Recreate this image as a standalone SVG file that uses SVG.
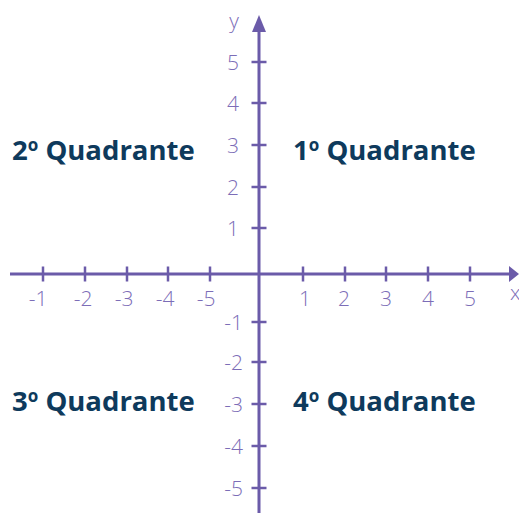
<svg xmlns="http://www.w3.org/2000/svg" width="519" height="513" viewBox="0 0 519 513">
<style>
.axis{stroke:#6b5ba9;stroke-width:3;fill:none}
.tick{stroke:#6b5ba9;stroke-width:2.5}
.lbl{font-family:"Open Sans","Liberation Sans",sans-serif;font-size:21px;font-weight:300;fill:#7c6db7}
.q{font-family:"Open Sans","Liberation Sans",sans-serif;font-weight:bold;font-size:27.5px;fill:#0e3a5c}
.sup{font-size:17px}
</style>
<rect width="519" height="513" fill="#ffffff"/>
<g id="axes">
<line class="axis" x1="10" y1="274" x2="512" y2="274"/>
<polygon points="519,274 509,266 509,282" fill="#6b5ba9"/>
<line class="axis" x1="259" y1="513" x2="259" y2="30"/>
<polygon points="259,15 252,32 266,32" fill="#6b5ba9"/>
<g class="tick">
<line x1="43" y1="266.5" x2="43" y2="281.5"/>
<line x1="85" y1="266.5" x2="85" y2="281.5"/>
<line x1="127" y1="266.5" x2="127" y2="281.5"/>
<line x1="168" y1="266.5" x2="168" y2="281.5"/>
<line x1="210" y1="266.5" x2="210" y2="281.5"/>
<line x1="303" y1="266.5" x2="303" y2="281.5"/>
<line x1="345" y1="266.5" x2="345" y2="281.5"/>
<line x1="386" y1="266.5" x2="386" y2="281.5"/>
<line x1="428" y1="266.5" x2="428" y2="281.5"/>
<line x1="470" y1="266.5" x2="470" y2="281.5"/>
<line x1="251.5" y1="62" x2="266.5" y2="62"/>
<line x1="251.5" y1="103" x2="266.5" y2="103"/>
<line x1="251.5" y1="145" x2="266.5" y2="145"/>
<line x1="251.5" y1="187" x2="266.5" y2="187"/>
<line x1="251.5" y1="228" x2="266.5" y2="228"/>
<line x1="251.5" y1="322" x2="266.5" y2="322"/>
<line x1="251.5" y1="362" x2="266.5" y2="362"/>
<line x1="251.5" y1="404" x2="266.5" y2="404"/>
<line x1="251.5" y1="446" x2="266.5" y2="446"/>
<line x1="251.5" y1="488" x2="266.5" y2="488"/>
</g>
</g>
<g id="x-labels" class="lbl" text-anchor="middle">
<text x="38" y="306">-1</text>
<text x="83" y="306">-2</text>
<text x="124" y="306">-3</text>
<text x="165" y="306">-4</text>
<text x="206" y="306">-5</text>
<text x="305" y="306">1</text>
<text x="344" y="306">2</text>
<text x="386" y="306">3</text>
<text x="428" y="306">4</text>
<text x="470" y="306">5</text>
<text x="510" y="300" text-anchor="start">x</text>
</g>
<g id="y-labels" class="lbl" text-anchor="end">
<text x="239" y="28">y</text>
<text x="239" y="70">5</text>
<text x="239" y="111">4</text>
<text x="239" y="153">3</text>
<text x="239" y="195">2</text>
<text x="239" y="236">1</text>
<text x="243" y="330">-1</text>
<text x="243" y="370">-2</text>
<text x="243" y="412">-3</text>
<text x="243" y="454">-4</text>
<text x="243" y="496">-5</text>
</g>
<g id="q1"><text class="q" x="293" y="160">1<tspan class="sup" dy="-9">o</tspan><tspan dy="9"> Quadrante</tspan></text></g>
<g id="q2"><text class="q" x="12" y="160">2<tspan class="sup" dy="-9">o</tspan><tspan dy="9"> Quadrante</tspan></text></g>
<g id="q3"><text class="q" x="12" y="411">3<tspan class="sup" dy="-9">o</tspan><tspan dy="9"> Quadrante</tspan></text></g>
<g id="q4"><text class="q" x="293" y="411">4<tspan class="sup" dy="-9">o</tspan><tspan dy="9"> Quadrante</tspan></text></g>
</svg>
